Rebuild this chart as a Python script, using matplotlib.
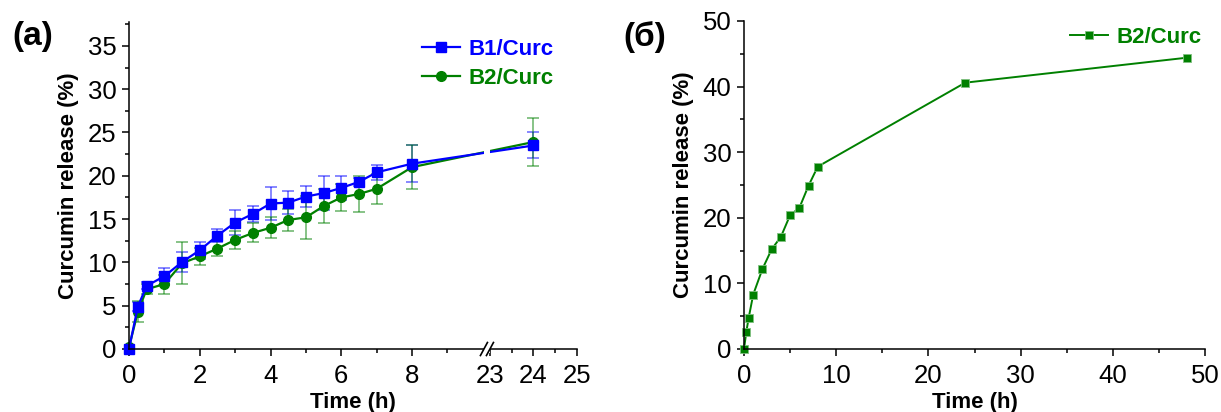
import numpy as np
import matplotlib
matplotlib.use('Agg')
import matplotlib.pyplot as plt
from matplotlib.ticker import FixedLocator, MultipleLocator

plt.rcParams['font.family'] = ['Liberation Sans', 'DejaVu Sans']

# release kinetics, panel (a): B1 and B2 loaded with curcumin
t_a = [0, 0.25, 0.5, 1, 1.5, 2, 2.5, 3, 3.5, 4, 4.5, 5, 5.5, 6, 6.5, 7, 8, 24]
b1 = [0, 4.9, 7.3, 8.4, 10.05, 11.4, 13.1, 14.6, 15.6, 16.8, 16.9, 17.6, 18.0, 18.6, 19.3, 20.4, 21.4, 23.5]
b1_err = [0, 0.5, 0.4, 1.0, 1.2, 1.0, 0.7, 1.4, 0.9, 1.9, 1.3, 1.2, 2.0, 1.4, 0.5, 0.9, 2.1, 1.5]
b2 = [0.2, 4.3, 6.9, 7.5, 9.9, 10.7, 11.6, 12.6, 13.4, 14.0, 14.9, 15.2, 16.5, 17.5, 17.9, 18.5, 21.0, 23.9]
b2_err = [0, 1.2, 0.6, 1.1, 2.4, 1.0, 0.9, 1.0, 1.1, 1.2, 1.3, 2.5, 2.0, 1.6, 2.1, 1.7, 2.5, 2.8]

# panel (б): B2/Curc up to 48 h
t_b = [0, 0.25, 0.5, 1, 2, 3, 4, 5, 6, 7, 8, 24, 48]
b2_long = [0, 2.6, 4.7, 8.3, 12.2, 15.2, 17.1, 20.4, 21.5, 24.9, 27.8, 40.6, 44.4]

BLUE = '#0000ff'
GREEN = '#008000'

# broken time axis: 0-10 h linear, 23-25 h stretched, tiny gap in between
GAP = 0.2
K = 1.23


def fwd(x):
    x = np.asarray(x, float)
    return np.where(x <= 10, x, np.where(x < 23, 10 + (x - 10) * GAP / 13, 10 + GAP + (x - 23) * K))


def inv(t):
    t = np.asarray(t, float)
    return np.where(t <= 10, t, np.where(t < 10 + GAP, 10 + (t - 10) * 13 / GAP, 23 + (t - 10 - GAP) / K))


fig = plt.figure(figsize=(12.21, 4.12), dpi=100)
ax1 = fig.add_axes([129 / 1221, 1 - 349 / 412, 448 / 1221, 326.5 / 412])
ax2 = fig.add_axes([744 / 1221, 1 - 349 / 412, 461 / 1221, 328 / 412])

for ax in (ax1, ax2):
    ax.spines['top'].set_visible(False)
    ax.spines['right'].set_visible(False)
    for s in ('left', 'bottom'):
        ax.spines[s].set_linewidth(1.1)
    ax.tick_params(which='major', direction='out', length=5, width=1.1, labelsize=18.5)
    ax.tick_params(which='minor', direction='out', length=3, width=1.1)
    ax.tick_params(axis='x', pad=6)
    ax.tick_params(axis='y', pad=4)

# ---- (a)
ax1.set_xscale('function', functions=(fwd, inv))
ax1.errorbar(t_a, b1, yerr=b1_err, fmt='none', ecolor=BLUE, alpha=0.55, elinewidth=1.2, capsize=4, capthick=1.2, zorder=2)
ax1.errorbar(t_a, b2, yerr=b2_err, fmt='none', ecolor=GREEN, alpha=0.55, elinewidth=1.2, capsize=4, capthick=1.2, zorder=2)
ax1.plot(t_a, b1, '-s', color=BLUE, lw=1.6, ms=6.5, label='B1/Curc', zorder=2.2, clip_on=False)
ax1.plot(t_a, b2, '-o', color=GREEN, lw=1.6, ms=7, label='B2/Curc', zorder=2.1, clip_on=False)
ax1.set_xlim(0, 25)
ax1.set_ylim(0, 37.7)
ax1.xaxis.set_major_locator(FixedLocator([0, 2, 4, 6, 8, 23, 24, 25]))
ax1.xaxis.set_minor_locator(FixedLocator([1, 3, 5, 7, 9, 23.5, 24.5]))
ax1.yaxis.set_major_locator(MultipleLocator(5))
ax1.yaxis.set_minor_locator(MultipleLocator(2.5))
ax1.set_xticklabels(['0', '2', '4', '6', '8', '23', '24', '25'])
ax1.set_xlabel('Time (h)', fontsize=16, fontweight='bold', labelpad=3)
ax1.set_ylabel('Curcumin release (%)', fontsize=16, fontweight='bold', labelpad=6)

# break marks on the time axis
tot = float(fwd(25))
f1, f2 = 10.03 / tot, (10 + GAP) / tot
dx, dy = 3.5 / 448, 6.5 / 326.5
ax1.fill_between([f1, f2], -0.012, 1, color='white', transform=ax1.transAxes, zorder=3, clip_on=False, lw=0)
for f in (f1, f2):
    ax1.plot([f - dx, f + dx], [-dy, dy], color='black', lw=1.2, transform=ax1.transAxes, clip_on=False, zorder=4)

ax1.legend(loc='upper left', bbox_to_anchor=(422 / 1221, 0.905), bbox_transform=fig.transFigure,
           frameon=False, borderpad=0, borderaxespad=0, handlelength=1.7, handletextpad=0.4,
           labelspacing=0.35, prop={'weight': 'bold', 'size': 16}, labelcolor='linecolor')

# ---- (б)
ax2.plot(t_b, b2_long, '-s', color=GREEN, lw=1.4, ms=5.5, mec='#7fbf7f', mew=0.6, label='B2/Curc', clip_on=False)
ax2.set_xlim(0, 50)
ax2.set_ylim(0, 50)
ax2.xaxis.set_major_locator(MultipleLocator(10))
ax2.xaxis.set_minor_locator(MultipleLocator(5))
ax2.yaxis.set_major_locator(MultipleLocator(10))
ax2.yaxis.set_minor_locator(MultipleLocator(5))
ax2.set_xlabel('Time (h)', fontsize=16, fontweight='bold', labelpad=3)
ax2.set_ylabel('Curcumin release (%)', fontsize=16, fontweight='bold', labelpad=6)
ax2.legend(loc='upper left', bbox_to_anchor=(1070 / 1221, 0.935), bbox_transform=fig.transFigure,
           frameon=False, borderpad=0, borderaxespad=0, handlelength=1.7, handletextpad=0.4,
           prop={'weight': 'bold', 'size': 16}, labelcolor='linecolor')

fig.text(33 / 1221, 1 - 37 / 412, '(a)', fontsize=24, fontweight='bold', ha='center', va='center')
fig.text(645 / 1221, 1 - 37 / 412, '(б)', fontsize=24, fontweight='bold', ha='center', va='center')

fig.savefig('out.png', dpi=100)
